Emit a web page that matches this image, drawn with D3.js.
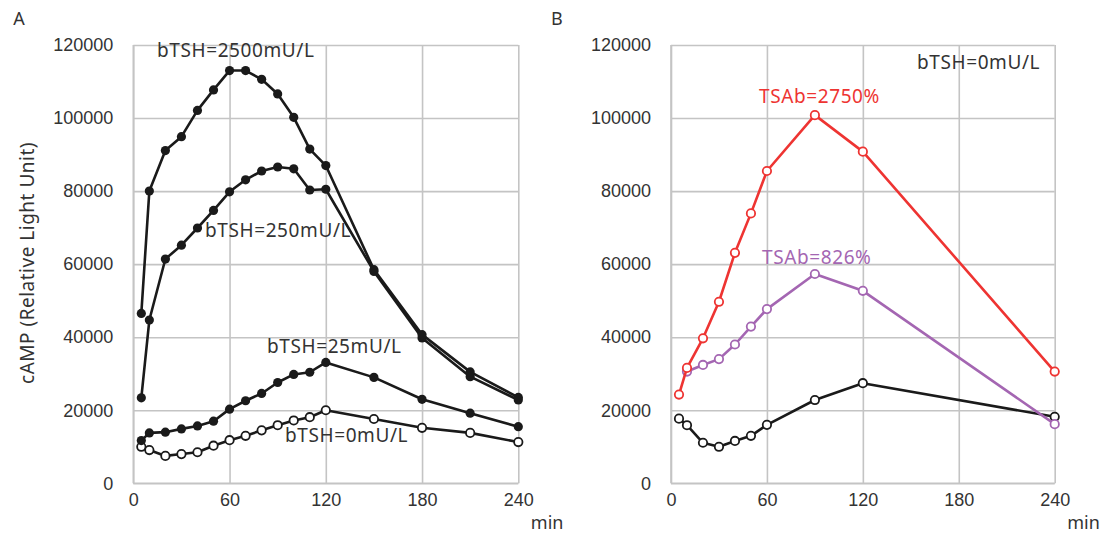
<!DOCTYPE html>
<html><head><meta charset="utf-8">
<script src="https://cdn.jsdelivr.net/npm/d3@7"></script>
<style>
body{margin:0;background:#fff;}
svg{display:block;font-family:"Noto Sans","Noto Sans CJK JP",sans-serif;}
</style></head>
<body><svg id="c" width="1105" height="536"></svg>
<script>
// ---- data ----
const timesA = [5,10,20,30,40,50,60,70,80,90,100,110,120,150,180,210,240];
const tsh2500 = [46500,80000,91100,94900,102100,107700,113000,113000,110600,106600,100200,91500,87000,58500,40700,30500,23500];
const tsh250  = [23400,44700,61400,65200,69900,74700,79800,83100,85500,86600,86100,80300,80500,58000,39800,29200,22800];
const tsh25   = [11700,13800,14000,14900,15700,17000,20300,22600,24600,27600,29800,30400,33100,29000,23000,19200,15500];
const tsh0A   = [10000,9100,7500,8000,8500,10300,11800,13000,14500,15900,17200,18100,20000,17600,15200,13800,11300];

const timesB = [5,10,20,30,40,50,60,90,120,240];
const timesPurple = [10,20,30,40,50,60,90,120,240];
const tsab2750 = [24300,31600,39700,49700,63100,73900,85500,100800,90800,30600];
const tsab826  = [30600,32400,34000,38000,42900,47700,57300,52700,16200];
const tsh0B    = [17700,15900,11100,10000,11600,13000,16000,22800,27400,18200];

const xTicks = [0,60,120,180,240];
const yTicks = [0,20000,40000,60000,80000,100000,120000];

// ---- drawing ----
const svg = d3.select("#c");
const textCol = "#333";
const gridCol = "#c4c4c4";

function panel(x0, x1, letter){
  const x = d3.scaleLinear().domain([0,240]).range([x0,x1]);
  const y = d3.scaleLinear().domain([0,120000]).range([483.3,45]);
  const g = svg.append("g");
  // horizontal grid + y labels
  const ya = g.append("g").attr("transform",`translate(${x0},0)`)
    .call(d3.axisLeft(y).tickValues(yTicks).tickSize(-(x1-x0)).tickPadding(20).tickFormat(d3.format("d")));
  // vertical grid + x labels
  const xa = g.append("g").attr("transform",`translate(0,45)`)
    .call(d3.axisBottom(x).tickValues(xTicks).tickSize(483.3-45).tickPadding(10).tickFormat(d3.format("d")));
  [ya,xa].forEach(a=>{
    a.select(".domain").remove();
    a.selectAll(".tick line").attr("stroke",gridCol).attr("stroke-width",1.6);
    a.selectAll(".tick text").attr("fill",textCol).style("font-size","18px");
  });
  xa.selectAll(".tick text").attr("dy","0.71em");
  // axis lines
  g.append("line").attr("x1",x0).attr("x2",x0).attr("y1",45).attr("y2",483.3).attr("stroke",gridCol).attr("stroke-width",1.6);
  g.append("line").attr("x1",x0).attr("x2",x1).attr("y1",483.3).attr("y2",483.3).attr("stroke",gridCol).attr("stroke-width",1.6);
  g.append("text").attr("x",x1+12.5).attr("y",529).text("min").attr("fill",textCol).style("font-size","18px");
  g.append("text").attr("x",x0-120).attr("y",25).text(letter).attr("fill",textCol).style("font-size","18px");
  return {g,x,y};
}

function series(p, times, vals, color, filled){
  const data = times.map((t,i)=>[t,vals[i]]);
  const line = d3.line().x(d=>p.x(d[0])).y(d=>p.y(d[1]));
  p.g.append("path").datum(data).attr("d",line).attr("fill","none")
    .attr("stroke",color).attr("stroke-width",2.6).attr("stroke-linejoin","round");
  p.g.selectAll(null).data(data).enter().append("circle")
    .attr("cx",d=>p.x(d[0])).attr("cy",d=>p.y(d[1]))
    .attr("r",filled?4.6:4.2)
    .attr("fill",filled?color:"#fff").attr("stroke",color).attr("stroke-width",filled?0:1.8);
}

function label(p, txt, x, y, color){
  p.g.append("text").attr("x",x).attr("y",y).text(txt).attr("fill",color||textCol)
    .style("font-size","19px").style("letter-spacing","0.6px");
}

const A = panel(133.3, 518.3, "A");
series(A, timesA, tsh0A, "#1a1a1a", false);
series(A, timesA, tsh25, "#1a1a1a", true);
series(A, timesA, tsh250, "#1a1a1a", true);
series(A, timesA, tsh2500, "#1a1a1a", true);
label(A, "bTSH=2500mU/L", 157, 57);
label(A, "bTSH=250mU/L", 205, 237);
label(A, "bTSH=25mU/L", 267, 353);
label(A, "bTSH=0mU/L", 285, 442);

svg.append("text").attr("transform","translate(34,263) rotate(-90)")
  .attr("text-anchor","middle").attr("fill",textCol).style("font-size","19px")
  .style("letter-spacing","0.5px").text("cAMP (Relative Light Unit)");

const B = panel(671, 1054.7, "B");
series(B, timesB, tsh0B, "#1a1a1a", false);
series(B, timesPurple, tsab826, "#a466b2", false);
series(B, timesB, tsab2750, "#ee3432", false);
label(B, "bTSH=0mU/L", 917, 69);
label(B, "TSAb=2750%", 759, 103, "#ee3432");
label(B, "TSAb=826%", 762, 264, "#a466b2");
</script></body></html>
